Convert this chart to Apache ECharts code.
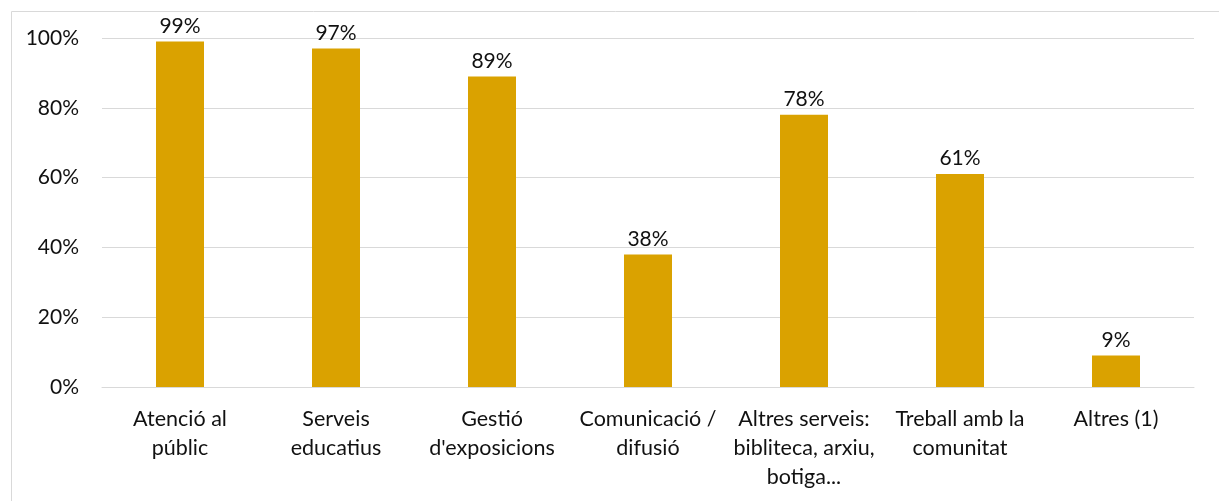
<!DOCTYPE html>
<html>
<head>
<meta charset="utf-8">
<script src="https://cdn.jsdelivr.net/npm/echarts@6/dist/echarts.min.js"></script>
<style>
html,body{margin:0;padding:0;background:#fff;}
#c{width:1219px;height:501px;}
</style>
</head>
<body>
<div id="c"></div>
<script>
const categories = ["Atenció al\npúblic", "Serveis\neducatius", "Gestió\nd'exposicions", "Comunicació /\ndifusió", "Altres serveis:\nbibliteca, arxiu,\nbotiga...", "Treball amb la\ncomunitat", "Altres (1)"];
const values = [99, 97, 89, 38, 78, 61, 9];
const yTicks = [0, 20, 40, 60, 80, 100];

const chart = echarts.init(document.getElementById('c'));
const font = 'Lato, "Open Sans", sans-serif';
chart.setOption({
  animation: false,
  graphic: [{
    type: 'rect', left: 9, top: 9,
    shape: {width: 1400, height: 700},
    style: {fill: 'none', stroke: '#d9d9d9', lineWidth: 1}
  }],
  grid: {left: 102, right: 25, top: 38, bottom: 114, containLabel: false},
  xAxis: {
    type: 'category', data: categories,
    axisLine: {show: true, lineStyle: {color: '#d9d9d9', width: 1}},
    axisTick: {show: false},
    axisLabel: {color: '#111', fontFamily: font, fontSize: 21.5, lineHeight: 29, margin: 18, interval: 0}
  },
  yAxis: {
    type: 'value', min: yTicks[0], max: yTicks[yTicks.length-1], interval: 20,
    axisLine: {show: false}, axisTick: {show: false},
    splitLine: {lineStyle: {color: '#d9d9d9', width: 1}},
    axisLabel: {color: '#111', fontFamily: font, fontSize: 21, margin: 23, formatter: v => v + '%'}
  },
  series: [{
    type: 'bar', data: values, barWidth: 48,
    itemStyle: {color: '#DAA200'},
    label: {show: true, position: 'top', distance: 5, color: '#111', fontFamily: font, fontSize: 21, formatter: p => p.value + '%'}
  }]
});
</script>
</body>
</html>
